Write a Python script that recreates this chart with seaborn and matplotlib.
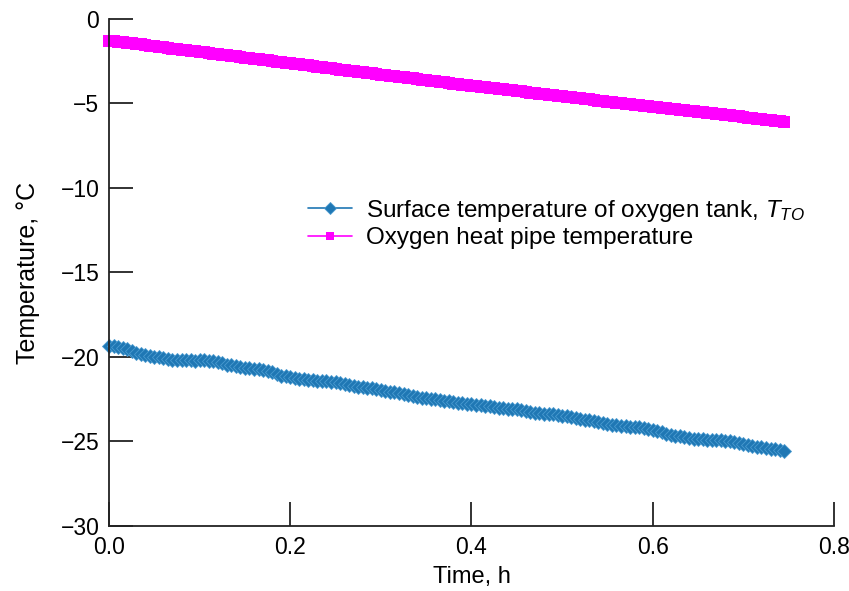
import numpy as np
import pandas as pd
import matplotlib
matplotlib.use("Agg")
import matplotlib.pyplot as plt
import seaborn as sns

# ---- data ----
time_h = np.round(np.arange(150) * 0.005, 3)

surface_temp = [
    -19.35, -19.33, -19.40, -19.45, -19.55, -19.66, -19.75, -19.84, -19.90, -19.96,
    -20.00, -20.03, -20.05, -20.11, -20.15, -20.17, -20.20, -20.19, -20.20, -20.22,
    -20.20, -20.18, -20.21, -20.25, -20.30, -20.38, -20.45, -20.50, -20.55, -20.61,
    -20.65, -20.68, -20.70, -20.72, -20.76, -20.82, -20.90, -21.00, -21.10, -21.15,
    -21.20, -21.26, -21.30, -21.33, -21.35, -21.37, -21.40, -21.42, -21.45, -21.48,
    -21.50, -21.55, -21.60, -21.66, -21.70, -21.75, -21.80, -21.82, -21.85, -21.90,
    -21.95, -22.00, -22.05, -22.10, -22.15, -22.20, -22.25, -22.30, -22.35, -22.40,
    -22.45, -22.48, -22.50, -22.55, -22.60, -22.62, -22.65, -22.70, -22.75, -22.77,
    -22.80, -22.82, -22.85, -22.88, -22.90, -22.95, -23.00, -23.02, -23.05, -23.07,
    -23.10, -23.15, -23.20, -23.25, -23.30, -23.33, -23.35, -23.37, -23.40, -23.45,
    -23.50, -23.52, -23.55, -23.60, -23.65, -23.70, -23.75, -23.80, -23.85, -23.90,
    -23.95, -24.00, -24.05, -24.08, -24.10, -24.12, -24.15, -24.17, -24.20, -24.25,
    -24.30, -24.38, -24.45, -24.53, -24.60, -24.65, -24.70, -24.75, -24.80, -24.83,
    -24.85, -24.88, -24.90, -24.89, -24.90, -24.93, -24.95, -25.00, -25.05, -25.10,
    -25.15, -25.20, -25.25, -25.30, -25.35, -25.40, -25.45, -25.47, -25.50, -25.55,
]

heat_pipe_temp = [
    -1.28, -1.31, -1.35, -1.38, -1.41, -1.45, -1.48, -1.51, -1.55, -1.58,
    -1.62, -1.65, -1.68, -1.72, -1.75, -1.78, -1.82, -1.85, -1.88, -1.92,
    -1.95, -1.98, -2.02, -2.05, -2.08, -2.12, -2.15, -2.18, -2.22, -2.25,
    -2.28, -2.32, -2.35, -2.38, -2.42, -2.45, -2.49, -2.52, -2.55, -2.59,
    -2.62, -2.65, -2.69, -2.72, -2.75, -2.79, -2.82, -2.85, -2.89, -2.92,
    -2.95, -2.99, -3.02, -3.05, -3.09, -3.12, -3.15, -3.19, -3.22, -3.25,
    -3.29, -3.32, -3.35, -3.39, -3.42, -3.45, -3.49, -3.52, -3.55, -3.59,
    -3.62, -3.65, -3.69, -3.72, -3.75, -3.79, -3.82, -3.85, -3.89, -3.92,
    -3.95, -3.98, -4.01, -4.04, -4.08, -4.11, -4.14, -4.17, -4.20, -4.23,
    -4.26, -4.29, -4.33, -4.36, -4.39, -4.42, -4.45, -4.48, -4.51, -4.54,
    -4.58, -4.61, -4.64, -4.67, -4.70, -4.73, -4.76, -4.79, -4.83, -4.86,
    -4.89, -4.92, -4.95, -4.98, -5.01, -5.04, -5.08, -5.11, -5.14, -5.17,
    -5.20, -5.23, -5.26, -5.29, -5.32, -5.35, -5.38, -5.41, -5.44, -5.47,
    -5.50, -5.53, -5.56, -5.59, -5.62, -5.65, -5.68, -5.71, -5.74, -5.77,
    -5.80, -5.83, -5.86, -5.89, -5.92, -5.95, -5.98, -6.01, -6.04, -6.08,
]

label_surface = r"Surface temperature of oxygen tank, $T_{TO}$"
label_pipe = "Oxygen heat pipe temperature"
x_ticks = [0.0, 0.2, 0.4, 0.6, 0.8]
y_ticks = [0, -5, -10, -15, -20, -25, -30]

# ---- style ----
sns.set_theme(style="white")
plt.rcParams["font.family"] = ["Liberation Sans", "DejaVu Sans"]
plt.rcParams["mathtext.fontset"] = "custom"
plt.rcParams["mathtext.rm"] = "Liberation Sans"
plt.rcParams["mathtext.it"] = "Liberation Sans:italic"
plt.rcParams["text.color"] = "black"

fig = plt.figure(figsize=(8.49, 5.91), dpi=100)
ax = fig.add_axes([0.1284, 0.110, 0.8539, 0.8579])

df_s = pd.DataFrame({"time": time_h, "temp": surface_temp})
df_p = pd.DataFrame({"time": time_h, "temp": heat_pipe_temp})

sns.lineplot(data=df_s, x="time", y="temp", ax=ax, color="#1f77b4",
             marker="D", markersize=7, markeredgewidth=0.6,
             markeredgecolor="#4a9ad0", linewidth=1.2,
             label=label_surface, clip_on=False)
sns.lineplot(data=df_p, x="time", y="temp", ax=ax, color="#ff00ff",
             marker="s", markersize=9, markeredgewidth=0,
             linewidth=1.2, label=label_pipe, clip_on=False)

ax.set_xlim(0, 0.8)
ax.set_ylim(-30, 0)
ax.set_xticks(x_ticks)
ax.set_xticklabels([f"{v:.1f}" for v in x_ticks])
ax.set_yticks(y_ticks)
ax.set_yticklabels([f"{v}".replace("-", "\u2212") for v in y_ticks])

for s in ["top", "right"]:
    ax.spines[s].set_visible(False)
for s in ["left", "bottom"]:
    ax.spines[s].set_color("#222222")
    ax.spines[s].set_linewidth(1.3)

ax.tick_params(axis="both", which="major", direction="in", length=17, width=1.3,
               color="#222222", labelsize=16.5, pad=7, labelcolor="black",
               bottom=True, left=True, top=False, right=False)
ax.set_xlabel("Time, h", fontsize=17, labelpad=5, color="black")
ax.set_ylabel("Temperature, \u00b0C", fontsize=18, labelpad=15, color="black")

leg = ax.legend(loc="upper left", bbox_to_anchor=(0.261, 0.667), frameon=False,
                fontsize=17.5, handlelength=1.8, handletextpad=0.6,
                labelspacing=0.15, borderaxespad=0)
for t in leg.get_texts():
    t.set_color("black")
for h in leg.legend_handles:
    h.set_markersize(6)
    h.set_linewidth(1.2)

fig.savefig("out.png", dpi=100)
